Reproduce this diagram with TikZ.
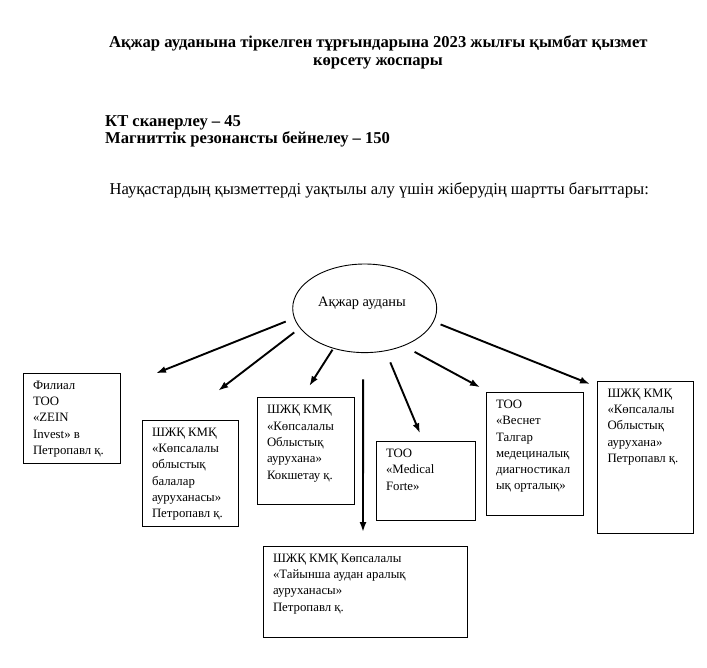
\documentclass[tikz,border=0pt]{standalone}
\usepackage{fontspec}
\setmainfont{Liberation Serif}
\usetikzlibrary{shapes.geometric,arrows.meta}
\newcommand\wardtext[3]{\parbox[t][#2pt][t]{#1pt}{\raggedright #3}}
\begin{document}
\begin{tikzpicture}[x=1pt,y=-1pt,>={Latex[length=10pt,width=7pt]},
		big/.style={font=\fontsize{16.6}{19}\selectfont},
		bigbold/.style={font=\bfseries\fontsize{16.6}{19}\selectfont},
		ward/.style={draw,line width=1pt,anchor=north west,inner xsep=10pt,inner ysep=8pt,outer sep=0pt,font=\fontsize{12.8}{16.3}\selectfont},
		route/.style={->,line width=1.9pt}]
	\useasboundingbox (0,0) rectangle (707,667);
	\node[bigbold,anchor=base] (title1) at (378.3,47.7){Ақжар ауданына тіркелген тұрғындарына 2023 жылғы қымбат қызмет};
	\node[bigbold,anchor=base] (title2) at (378,65.7){көрсету жоспары};
	\node[bigbold,anchor=base west] (kt) at (101.7,126.7){КТ сканерлеу – 45};
	\node[bigbold,anchor=base west] (mrt) at (101.7,143.3){Магниттік резонансты бейнелеу – 150};
	\node[big,anchor=base west] (note) at (106,194.3){Науқастардың қызметтерді уақтылы алу үшін жіберудің шартты бағыттары:};
	\node[draw,ellipse,line width=0.9pt,minimum width=144pt,minimum height=88.6pt,inner sep=0pt] (raion) at (364.7,308.3){};
	\node[font=\fontsize{14.4}{17}\selectfont,anchor=base] (raionname) at (362,306){Ақжар ауданы};
	\node[ward] (zein) at (23,373){\wardtext{77}{74}{Филиал\\ТОО\\«ZEIN\\Invest» в\\Петропавл қ.}};
	\node[ward] (bala) at (142,420){\wardtext{76}{90}{ШЖҚ КМҚ\\«Көпсалалы\\облыстық\\балалар\\ауруханасы»\\Петропавл қ.}};
	\node[ward] (kokshe) at (257,397.5){\wardtext{77}{91}{ШЖҚ КМҚ\\«Көпсалалы\\Облыстық\\аурухана»\\Кокшетау қ.}};
	\node[ward] (forte) at (376,441){\wardtext{79}{63}{ТОО\\«Medical\\Forte»}};
	\node[ward] (vesnet) at (486,392){\wardtext{77}{107}{ТОО\\«Веснет\\Талгар\\медециналық\\диагностикал\\ық орталық»}};
	\node[ward] (oblys) at (597.5,381){\wardtext{76}{136}{ШЖҚ КМҚ\\«Көпсалалы\\Облыстық\\аурухана»\\Петропавл қ.}};
	\node[ward] (taiynsha) at (263,546){\wardtext{184}{75}{ШЖҚ КМҚ Көпсалалы\\«Тайынша аудан аралық\\ауруханасы»\\Петропавл қ.}};
	\coordinate (t1) at (156,373.3);
	\coordinate (t2) at (218.3,390.7);
	\coordinate (t3) at (309.3,386);
	\coordinate (t4) at (363,532);
	\coordinate (t5) at (420,433.3);
	\coordinate (t6) at (480,387.3);
	\coordinate (t7) at (590,384);
	\draw[route,shorten <=9pt] (raion.188.5) -- (t1);
	\draw[route,shorten <=7pt] (raion.197.6) -- (t2);
	\draw[route,shorten <=1.3pt] (raion.232) -- (t3);
	\draw[route,shorten <=26.4pt] (raion.268.6) -- (t4);
	\draw[route,shorten <=12.2pt] (raion.296) -- (t5);
	\draw[route,shorten <=12.4pt] (raion.316.4) -- (t6);
	\draw[route,shorten <=7.3pt] (raion.349.3) -- (t7);
\end{tikzpicture}
\end{document}
